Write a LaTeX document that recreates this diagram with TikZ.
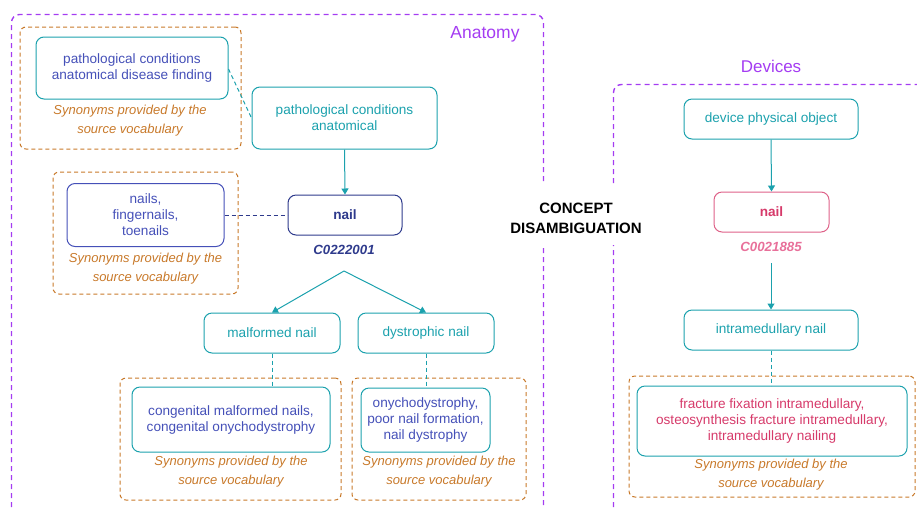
\documentclass[tikz,border=0pt]{standalone}
\usepackage{fontspec}
\setmainfont{Liberation Sans}
\usetikzlibrary{arrows.meta}
\definecolor{tealc}{HTML}{1BA1AD}
\definecolor{bluec}{HTML}{4550B8}
\definecolor{navyc}{HTML}{2E3A8C}
\definecolor{orangec}{HTML}{C8792A}
\definecolor{purplec}{HTML}{A43CF2}
\definecolor{pinkc}{HTML}{D63A6A}
\definecolor{pinklc}{HTML}{E8709A}
\tikzset{
  x=1pt, y=-1pt,
  box/.style={draw, rounded corners=8pt, line width=1pt, align=center, inner sep=2pt,
    font=\fontsize{13.6}{16}\selectfont},
  tealbox/.style={box, draw=tealc, text=tealc},
  synbox/.style={box, draw=tealc, text=bluec},
  syngroup/.style={draw=orangec, line width=1pt, dash pattern=on 4pt off 3pt, rounded corners=6pt},
  syntext/.style={text=orangec, align=center, font=\fontsize{13}{19}\selectfont\itshape},
  frame/.style={draw=purplec, line width=1.4pt, dash pattern=on 5pt off 4pt, rounded corners=8pt},
  arr/.style={draw=tealc, line width=1pt, -{Triangle[width=7pt,length=6pt]}},
  link/.style={draw=tealc, line width=1pt, dash pattern=on 4pt off 3pt},
}
\begin{document}
\begin{tikzpicture}
\useasboundingbox (0,0) rectangle (917,507);
% frames
\coordinate (a1) at (11.5,507);
\coordinate (a4) at (543.5,507);
\coordinate (d2) at (917,84.5);
\coordinate (d4) at (613.5,507);
\draw[frame] (a1) -- (11.5,14.5) -- (543.5,14.5) -- (a4);
\draw[frame] (d4) -- (613.5,84.5) -- (d2);
\node[text=purplec, font=\fontsize{17.5}{18}\selectfont] (anat) at (485,34) {Anatomy};
\node[text=purplec, font=\fontsize{17}{18}\selectfont] (devl) at (771,66) {Devices};
\node[fill=white, minimum width=150, minimum height=60] (gap) at (576,215) {};
\node[align=center, font=\fontsize{15}{20}\selectfont\bfseries] (cd) at (576,218) {CONCEPT\\DISAMBIGUATION};

% synonym groups
\node[syngroup, minimum width=221, minimum height=122] (g1) at (130.5,88) {};
\node[syngroup, minimum width=185, minimum height=122] (g2) at (145.5,233) {};
\node[syngroup, minimum width=221, minimum height=122] (g3) at (230.5,439) {};
\node[syngroup, minimum width=174, minimum height=122] (g4) at (439,439) {};
\node[syngroup, minimum width=286, minimum height=121] (g5) at (772,436.5) {};

% Anatomy nodes
\node[synbox, minimum width=192, minimum height=62] (s1) at (132,68) {pathological conditions\\anatomical disease finding};
\node[syntext] (t1) at (130,121) {Synonyms provided by the\\source vocabulary};
\node[tealbox, minimum width=185, minimum height=62] (pca) at (344.5,118) {pathological conditions\\anatomical};
\node[box, draw=navyc, text=navyc, minimum width=114, minimum height=40, font=\fontsize{13.6}{16}\selectfont\bfseries] (nail1) at (345,215) {nail};
\node[text=navyc, font=\fontsize{13.3}{14}\selectfont\bfseries\itshape] (c1) at (344,250) {C0222001};
\node[box, draw=bluec, text=bluec, minimum width=157, minimum height=63] (s2) at (145.5,215) {nails,\\fingernails,\\toenails};
\node[syntext] (t2) at (145.5,268.5) {Synonyms provided by the\\source vocabulary};
\coordinate (br) at (344,271);
\node[tealbox, minimum width=136, minimum height=40] (mal) at (272,333) {malformed nail};
\node[tealbox, minimum width=136, minimum height=40] (dys) at (426,333) {dystrophic nail};
\node[synbox, minimum width=198, minimum height=65] (s3) at (231,419.5) {congenital malformed nails,\\congenital onychodystrophy};
\node[syntext] (t3) at (231,472) {Synonyms provided by the\\source vocabulary};
\node[synbox, minimum width=129, minimum height=64] (s4) at (425.5,420) {onychodystrophy,\\poor nail formation,\\nail dystrophy};
\node[syntext] (t4) at (439,472) {Synonyms provided by the\\source vocabulary};

% Devices nodes
\node[tealbox, minimum width=174, minimum height=40] (dpo) at (771,119) {device physical object};
\node[box, draw=pinkc!80, text=pinkc, minimum width=115, minimum height=40, font=\fontsize{13.6}{16}\selectfont\bfseries] (nail2) at (771.5,212) {nail};
\node[text=pinklc, font=\fontsize{13.3}{14}\selectfont\bfseries\itshape] (c2) at (771,247) {C0021885};
\coordinate (c2b) at (771,263);
\node[tealbox, minimum width=174, minimum height=40] (imn) at (771,330) {intramedullary nail};
\node[box, draw=tealc, text=pinkc, minimum width=270, minimum height=70] (s5) at (772,421) {fracture fixation intramedullary,\\osteosynthesis fracture intramedullary,\\intramedullary nailing};
\node[syntext] (t5) at (771,475) {Synonyms provided by the\\source vocabulary};

% connectors
\draw[link] (s1.east) ++(0,1) coordinate (s1e) -- (pca.west);
\draw[arr] (pca.south) -- (nail1.north);
\draw[draw=navyc, line width=1pt, dash pattern=on 4pt off 3pt] (s2.east) -- (nail1.west);
\draw[arr] (br) -- (mal.north);
\draw[arr] (br) -- (dys.north);
\draw[link] (mal.south) -- (s3.north -| mal.south);
\draw[link] (dys.south) -- (s4.north -| dys.south);
\draw[arr] (dpo.south) -- (nail2.north);
\draw[arr] (c2b) -- (imn.north);
\draw[link] (imn.south) -- (s5.north -| imn.south);
\end{tikzpicture}
\end{document}
